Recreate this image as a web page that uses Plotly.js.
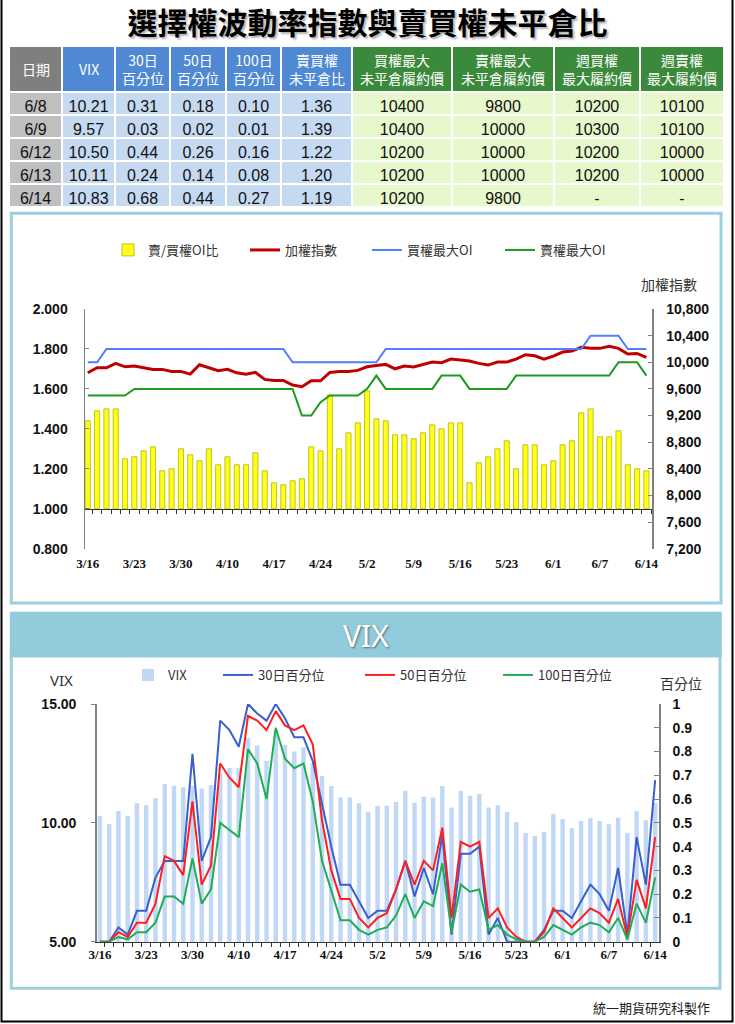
<!DOCTYPE html>
<html><head><meta charset="utf-8">
<script src="https://cdn.plot.ly/plotly-3.0.1.min.js"></script>
<style>html,body{margin:0;padding:0;background:#fff}#chart{width:735px;height:1024px}</style>
</head><body><div id="chart"></div>
<script>
// ---------------- data ----------------
const dates = ['3/16','3/17','3/20','3/21','3/22','3/23','3/24','3/27','3/28','3/29','3/30','3/31',
  '4/5','4/6','4/7','4/10','4/11','4/12','4/13','4/14','4/17','4/18','4/19','4/20','4/21','4/24','4/25','4/26','4/27','4/28',
  '5/2','5/3','5/4','5/5','5/8','5/9','5/10','5/11','5/12','5/15','5/16','5/17','5/18','5/19','5/22','5/23','5/24','5/25','5/26','5/31',
  '6/1','6/2','6/3','6/5','6/6','6/7','6/8','6/9','6/12','6/13','6/14'];
const labelDates = ['3/16','3/23','3/30','4/10','4/17','4/24','5/2','5/9','5/16','5/23','6/1','6/7','6/14'];

// 賣/買權OI比
const oiRatio = [1.44,1.49,1.50,1.50,1.25,1.26,1.29,1.31,1.19,1.20,
  1.30,1.27,1.24,1.30,1.22,1.26,1.22,1.22,1.28,1.19,
  1.13,1.12,1.14,1.15,1.31,1.29,1.57,1.30,1.38,1.43,
  1.59,1.45,1.44,1.37,1.37,1.35,1.38,1.42,1.40,1.43,
  1.43,1.13,1.23,1.26,1.30,1.34,1.20,1.32,1.32,1.22,
  1.24,1.32,1.34,1.48,1.50,1.36,1.36,1.39,1.22,1.20,1.19];
// 加權指數
const taiex = [9842,9917,9917,9983,9932,9943,9917,9893,9893,9863,
  9863,9822,9963,9913,9873,9893,9842,9822,9848,9743,
  9727,9727,9657,9632,9722,9722,9848,9863,9863,9878,
  9932,9953,9968,9902,9943,9928,9968,10003,9993,10048,
  10033,10018,9983,9958,10003,10003,10048,10113,10098,10048,
  10093,10153,10168,10224,10209,10209,10239,10209,10123,10133,10073];
// 買權最大OI
const callMaxOI = [10000,10000,10200,10200,10200,10200,10200,10200,10200,10200,
  10200,10200,10200,10200,10200,10200,10200,10200,10200,10200,
  10200,10200,10000,10000,10000,10000,10000,10000,10000,10000,
  10000,10000,10200,10200,10200,10200,10200,10200,10200,10200,
  10200,10200,10200,10200,10200,10200,10200,10200,10200,10200,
  10200,10200,10200,10200,10400,10400,10400,10400,10200,10200,10200];
// 賣權最大OI
const putMaxOI = [9500,9500,9500,9500,9500,9600,9600,9600,9600,9600,
  9600,9600,9600,9600,9600,9600,9600,9600,9600,9600,
  9600,9600,9600,9200,9200,9400,9500,9500,9500,9500,
  9600,9800,9600,9600,9600,9600,9600,9600,9800,9800,
  9800,9600,9600,9600,9600,9600,9800,9800,9800,9800,
  9800,9800,9800,9800,9800,9800,9800,10000,10000,10000,9800];
// VIX
const vix = [10.29,9.95,10.50,10.29,10.82,10.74,11.03,11.63,11.56,11.50,
  11.55,11.45,11.59,12.10,12.31,12.31,13.58,13.25,12.61,13.90,
  13.28,13.00,13.18,12.50,11.97,11.55,11.07,11.07,10.82,10.47,
  10.72,10.72,10.88,11.35,10.85,11.10,11.07,11.55,10.65,11.35,
  11.14,11.21,10.65,10.74,10.46,10.04,9.57,9.45,9.63,10.38,
  10.15,9.77,10.08,10.19,10.08,9.94,10.21,9.57,10.50,10.11,10.83];
// 30日百分位
const pct30 = [0,0,0.06,0.03,0.13,0.13,0.27,0.34,0.34,0.34,
  0.79,0.34,0.44,0.93,0.89,0.82,1.00,0.96,0.93,1.00,
  0.94,0.86,0.86,0.76,0.58,0.40,0.24,0.24,0.17,0.10,
  0.13,0.13,0.22,0.34,0.19,0.31,0.20,0.45,0.03,0.37,
  0.37,0.40,0.03,0.10,0,0,0,0,0.05,0.13,
  0.13,0.10,0.17,0.24,0.20,0.13,0.31,0.03,0.44,0.24,0.68];
// 50日百分位
const pct50 = [0,0,0.04,0.02,0.08,0.08,0.16,0.36,0.34,0.28,
  0.59,0.24,0.32,0.75,0.69,0.65,0.95,0.93,0.89,0.97,
  0.91,0.89,0.91,0.83,0.51,0.30,0.18,0.18,0.10,0.06,
  0.10,0.12,0.22,0.34,0.24,0.34,0.30,0.48,0.10,0.42,
  0.40,0.42,0.10,0.14,0.06,0.02,0,0,0.04,0.14,
  0.10,0.06,0.10,0.14,0.12,0.08,0.18,0.02,0.26,0.14,0.44];
// 100日百分位
const pct100 = [0,0,0.02,0.01,0.04,0.04,0.08,0.19,0.19,0.16,
  0.35,0.16,0.22,0.50,0.47,0.44,0.81,0.75,0.60,0.90,
  0.77,0.73,0.75,0.59,0.34,0.21,0.09,0.09,0.05,0.03,
  0.05,0.06,0.11,0.20,0.10,0.17,0.15,0.33,0.04,0.24,
  0.21,0.22,0.05,0.07,0.03,0.01,0,0,0.02,0.07,
  0.05,0.03,0.06,0.08,0.07,0.04,0.10,0.01,0.16,0.08,0.27];
// 週選擇權
const weeklyCallMax = ['10200','10300','10200','10200','-'];
const weeklyPutMax  = ['10100','10100','10000','10000','-'];
const tableHeaders = ['日期','VIX','30日<br>百分位','50日<br>百分位','100日<br>百分位','賣買權<br>未平倉比',
  '買權最大<br>未平倉履約價','賣權最大<br>未平倉履約價','週買權<br>最大履約價','週賣權<br>最大履約價'];
const columnWidths = [53,53,55,56,55,71,100,102,86,84];

// ---------------- helpers ----------------
const W = 735, H = 1024;
const px = x => x / W;
const py = y => 1 - y / H;
const last5 = a => a.slice(-5);
const f2 = a => last5(a).map(v => v.toFixed(2));

const tickText = dates.map(d => labelDates.includes(d) ? d : '');
const sansB = {family:'Liberation Sans, Arial, sans-serif', size:14, color:'#111', weight:'bold'};
const serifB = {family:'Liberation Serif, Times New Roman, serif', size:13, color:'#111', weight:'bold'};
const cjk = 'Noto Sans CJK TC, Noto Sans, sans-serif';

// ---------------- table ----------------
const TABLE_X0 = 9, TABLE_TOP = 46, HEAD_H = 46, ROW_H = 23;
const GRAY_H='#7f7f7f', BLUE_H='#4f89d3', GREEN_H='#3b8a3b';
const GRAY_C='#bfbfbf', BLUE_C='#c5d9f1', GREEN_C='#e8f8cd';
const headFill = [GRAY_H,BLUE_H,BLUE_H,BLUE_H,BLUE_H,BLUE_H,GREEN_H,GREEN_H,GREEN_H,GREEN_H].map(c=>[c]);
const cellFill = [GRAY_C,BLUE_C,BLUE_C,BLUE_C,BLUE_C,BLUE_C,GREEN_C,GREEN_C,GREEN_C,GREEN_C].map(c=>[c,c,c,c,c]);
const tableW = columnWidths.reduce((a,b)=>a+b,0);

const table = {
  type:'table',
  domain:{x:[px(TABLE_X0),px(TABLE_X0+tableW)], y:[py(212),py(TABLE_TOP)]},
  columnwidth:columnWidths,
  header:{
    values: tableHeaders.map(()=>['']),
    fill:{color:headFill}, line:{color:'#ffffff', width:1.5},
    align:'center', height:HEAD_H,
    font:{family:cjk, size:14, color:'#ffffff'}
  },
  cells:{
    values:[last5(dates), f2(vix), f2(pct30), f2(pct50), f2(pct100), f2(oiRatio),
            last5(callMaxOI).map(String), last5(putMaxOI).map(String), weeklyCallMax, weeklyPutMax],
    fill:{color:cellFill}, line:{color:'#ffffff', width:1.5},
    align:'center', height:ROW_H,
    font:{family:'Liberation Sans Narrow, Liberation Sans, Arial, sans-serif', size:16, color:'#111'}
  }
};
// header labels (centred in each header cell)
let acc = TABLE_X0;
const headerAnn = tableHeaders.map((h,i)=>{
  const cx = acc + columnWidths[i]/2; acc += columnWidths[i];
  return {text:h, xref:'paper', yref:'paper', x:px(cx), y:py(TABLE_TOP+HEAD_H/2), xanchor:'center', yanchor:'middle',
    showarrow:false, align:'center', font:{family:cjk, size:14, color:'#ffffff'}};
});

// ---------------- top chart ----------------
const barsOI = {
  type:'bar', x:dates, y:oiRatio.map(v=>v-1), base:1, name:'賣/買權OI比',
  xaxis:'x', yaxis:'y', width:0.55, legendwidth:92,
  marker:{color:'#ffff1a', line:{color:'#b5b500', width:0.8}}
};
const lineTaiex = {type:'scatter', mode:'lines', x:dates, y:taiex, name:'加權指數', xaxis:'x', yaxis:'y2',
  line:{color:'#c00000', width:3}, legendwidth:77};
const lineCall = {type:'scatter', mode:'lines', x:dates, y:callMaxOI, name:'買權最大OI', xaxis:'x', yaxis:'y2',
  line:{color:'#4f7fff', width:2}, legendwidth:88};
const linePut = {type:'scatter', mode:'lines', x:dates, y:putMaxOI, name:'賣權最大OI', xaxis:'x', yaxis:'y2',
  line:{color:'#1e9a1e', width:2}, legendwidth:70};

// ---------------- VIX chart ----------------
const barsVix = {type:'bar', x:dates, y:vix, name:'VIX', xaxis:'x2', yaxis:'y3', width:0.48,
  marker:{color:'#c0d8f5'}, legend:'legend2', legendwidth:45};
const l30 = {type:'scatter', mode:'lines', x:dates, y:pct30, name:'30日百分位', xaxis:'x2', yaxis:'y4',
  line:{color:'#3a5fcd', width:2}, legend:'legend2', legendwidth:97};
const l50 = {type:'scatter', mode:'lines', x:dates, y:pct50, name:'50日百分位', xaxis:'x2', yaxis:'y4',
  line:{color:'#ff1f1f', width:2}, legend:'legend2', legendwidth:93};
const l100 = {type:'scatter', mode:'lines', x:dates, y:pct100, name:'100日百分位', xaxis:'x2', yaxis:'y4',
  line:{color:'#1fae55', width:2}, legend:'legend2', legendwidth:80};

const PANEL = '#9bd0df';
const layout = {
  width:W, height:H, autosize:false,
  margin:{l:0,r:0,t:0,b:0,pad:0},
  paper_bgcolor:'#ffffff', plot_bgcolor:'rgba(0,0,0,0)',
  showlegend:true,
  title:{text:'選擇權波動率指數與賣買權未平倉比', x:0.5, xanchor:'center', y:py(23), yanchor:'middle',
    font:{family:cjk, size:30, color:'#000', weight:'bold', shadow:'2px 2px 2px rgba(0,0,0,0.3)'}},
  legend:{orientation:'h', x:px(108), xanchor:'left', y:py(250), yanchor:'middle',
    bgcolor:'rgba(0,0,0,0)', font:{family:cjk, size:13, color:'#333'}, itemwidth:30, traceorder:'normal'},
  legend2:{orientation:'h', x:px(128), xanchor:'left', y:py(675), yanchor:'middle',
    bgcolor:'rgba(0,0,0,0)', font:{family:cjk, size:13, color:'#333'}, itemwidth:30, traceorder:'normal'},
  xaxis:{type:'category', domain:[px(85),px(652)], anchor:'free', position:py(508.7),
    range:[-0.3,60.6], tickmode:'array', tickvals:dates, ticktext:tickText, tickson:'boundaries',
    ticks:'outside', ticklen:4, tickcolor:'#333', showline:true, linecolor:'#333', linewidth:1.5,
    tickfont:serifB, tickangle:0, ticklabelstandoff:42, showgrid:false, zeroline:false},
  yaxis:{domain:[py(548.7),py(309)], anchor:'x', range:[0.8,2.0], dtick:0.2, tickformat:'.3f',
    ticks:'inside', ticklen:4, tickcolor:'#808080', showline:true, linecolor:'#808080', linewidth:1.5,
    tickfont:sansB, ticklabelstandoff:13, showgrid:false, zeroline:false},
  yaxis2:{overlaying:'y', side:'right', anchor:'x', range:[7200,10800], dtick:400, tickformat:',',
    ticks:'inside', ticklen:4, tickcolor:'#808080', showline:true, linecolor:'#808080', linewidth:1.5,
    tickfont:sansB, ticklabelstandoff:10, showgrid:false, zeroline:false},
  xaxis2:{type:'category', domain:[px(96.7),px(659.3)], anchor:'y3',
    range:[-0.35,60.45], tickmode:'array', tickvals:dates, ticktext:tickText, tickson:'boundaries',
    ticks:'outside', ticklen:4, tickcolor:'#333', showline:true, linecolor:'#333', linewidth:1.5,
    tickfont:serifB, tickangle:0, showgrid:false, zeroline:false},
  yaxis3:{domain:[py(941.7),py(704)], anchor:'x2', range:[5,15], tickvals:[5,10,15], tickformat:'.2f',
    ticks:'outside', ticklen:4, tickcolor:'#808080', showline:true, linecolor:'#808080', linewidth:1.5,
    tickfont:sansB, ticklabelstandoff:12, showgrid:false, zeroline:false},
  yaxis4:{overlaying:'y3', side:'right', anchor:'x2', range:[0,1], dtick:0.1,
    ticks:'inside', ticklen:5, tickcolor:'#808080', showline:true, linecolor:'#808080', linewidth:1.5,
    tickfont:sansB, ticklabelstandoff:9, showgrid:false, zeroline:false},
  shapes:[
    {type:'rect', xref:'paper', yref:'paper', x0:px(1.5), x1:px(732.5), y0:py(1021.5), y1:py(-3),
      line:{color:'#000', width:2}, layer:'below'},
    {type:'rect', xref:'paper', yref:'paper', x0:px(11.3), x1:px(721), y0:py(603), y1:py(213.3),
      line:{color:PANEL, width:3}, layer:'below'},
    {type:'rect', xref:'paper', yref:'paper', x0:px(11.3), x1:px(720), y0:py(988.3), y1:py(656),
      line:{color:PANEL, width:3}, layer:'below'},
    {type:'rect', xref:'paper', yref:'paper', x0:px(9.8), x1:px(721.8), y0:py(657), y1:py(611.7),
      fillcolor:'#92cbdc', line:{width:0}, layer:'below'}
  ],
  annotations: headerAnn.concat([
    {text:'VIX', xref:'paper', yref:'paper', x:px(366), y:py(635), xanchor:'center', yanchor:'middle', showarrow:false,
      font:{family:'Noto Sans, sans-serif', size:30, color:'#ffffff', shadow:'1px 1px 2px rgba(0,0,0,0.45)'}},
    {text:'加權指數', xref:'paper', yref:'paper', x:px(669), y:py(284), xanchor:'center', yanchor:'middle', showarrow:false,
      font:{family:cjk, size:14, color:'#333'}},
    {text:'VIX', xref:'paper', yref:'paper', x:px(62), y:py(680), xanchor:'center', yanchor:'middle', showarrow:false,
      font:{family:'Noto Sans, sans-serif', size:15, color:'#333'}},
    {text:'百分位', xref:'paper', yref:'paper', x:px(681), y:py(683), xanchor:'center', yanchor:'middle', showarrow:false,
      font:{family:cjk, size:14, color:'#333'}},
    {text:'統一期貨研究科製作', xref:'paper', yref:'paper', x:px(712), y:py(1007), xanchor:'right', yanchor:'middle', showarrow:false,
      font:{family:cjk, size:13, color:'#222'}}
  ])
};

Plotly.newPlot('chart', [table, barsOI, lineTaiex, lineCall, linePut, barsVix, l30, l50, l100], layout,
  {displayModeBar:false, staticPlot:true});
</script></body></html>
